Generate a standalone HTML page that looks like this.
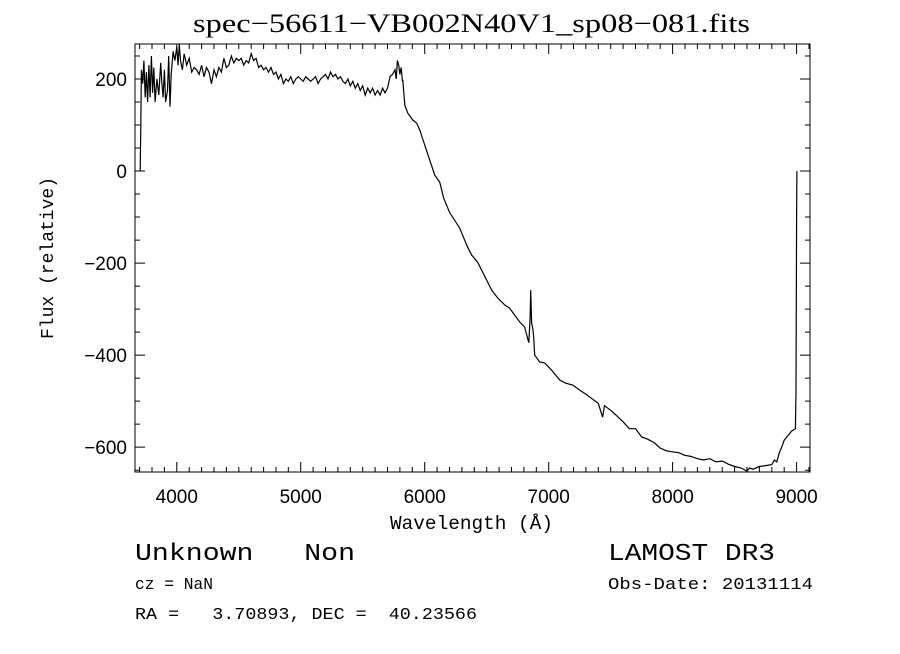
<!DOCTYPE html>
<html><head><meta charset="utf-8"><style>
body{margin:0;background:#fff;}
svg text{fill:#000;}
</style></head><body>
<svg id="chart" width="900" height="649" xmlns="http://www.w3.org/2000/svg">
<rect width="900" height="649" fill="#fff"/>
<text x="193" y="32" textLength="557" lengthAdjust="spacingAndGlyphs" font-family="Liberation Serif, serif" font-size="26">spec−56611−VB002N40V1_sp08−081.fits</text>
<g id="axes"></g>
<path id="spectrum" fill="none" stroke="#000" stroke-width="1.2"/>
<text x="390" y="529" textLength="163" lengthAdjust="spacingAndGlyphs" font-family="Liberation Mono, monospace" font-size="19">Wavelength (Å)</text>
<text transform="translate(53,258) rotate(-90)" text-anchor="middle" font-family="Liberation Mono, monospace" font-size="18">Flux (relative)</text>
<text x="135" y="560" textLength="220" lengthAdjust="spacingAndGlyphs" font-family="Liberation Mono, monospace" font-size="24" xml:space="preserve">Unknown   Non</text>
<text x="608" y="560" textLength="167" lengthAdjust="spacingAndGlyphs" font-family="Liberation Mono, monospace" font-size="24">LAMOST DR3</text>
<text x="135" y="589" textLength="78" lengthAdjust="spacingAndGlyphs" font-family="Liberation Mono, monospace" font-size="17">cz = NaN</text>
<text x="608" y="589" textLength="205" lengthAdjust="spacingAndGlyphs" font-family="Liberation Mono, monospace" font-size="17">Obs-Date: 20131114</text>
<text x="135" y="619" textLength="342" lengthAdjust="spacingAndGlyphs" font-family="Liberation Mono, monospace" font-size="17" xml:space="preserve">RA =   3.70893, DEC =  40.23566</text>
</svg>
<script>
const wavelengths=[3705,3710,3715,3725,3735,3745,3755,3765,3775,3785,3795,3805,3815,3825,3840,3855,3870,3880,3890,3900,3910,3925,3935,3945,3955,3970,3985,4000,4010,4020,4030,4045,4060,4080,4100,4120,4140,4160,4180,4200,4220,4240,4260,4280,4300,4320,4340,4360,4380,4400,4420,4440,4460,4480,4500,4520,4540,4560,4580,4600,4620,4640,4660,4680,4700,4720,4740,4760,4780,4800,4820,4840,4860,4880,4900,4920,4940,4960,4980,5000,5020,5040,5060,5080,5100,5120,5140,5160,5180,5200,5220,5240,5260,5280,5300,5320,5340,5360,5380,5400,5420,5440,5460,5480,5500,5520,5540,5560,5580,5600,5620,5640,5660,5680,5700,5720,5740,5760,5770,5780,5790,5800,5810,5820,5823,5839,5863,5903,5935,5960,5992,6040,6081,6121,6153,6202,6242,6282,6339,6379,6427,6500,6540,6589,6645,6685,6726,6766,6806,6840,6850,6855,6862,6870,6878,6887,6927,6968,7024,7089,7137,7194,7250,7300,7350,7400,7435,7450,7500,7550,7600,7650,7700,7750,7800,7850,7900,7950,8000,8050,8100,8150,8200,8250,8300,8350,8400,8450,8500,8550,8600,8620,8650,8700,8750,8800,8820,8840,8860,8880,8900,8930,8960,8990,8995,9000,9002];
const fluxes=[0,100,220,190,240,160,215,150,230,160,250,170,225,150,200,165,235,190,160,220,150,175,250,140,210,260,240,270,230,275,240,220,255,230,245,215,225,220,210,230,205,225,215,190,220,205,225,215,245,225,230,250,235,245,240,245,230,240,235,255,240,245,225,230,220,225,215,225,210,215,200,210,190,200,195,205,190,200,205,200,195,205,200,195,200,205,190,200,205,210,200,215,205,210,200,205,195,190,200,185,195,180,190,175,185,165,180,170,180,165,175,165,180,170,180,205,210,220,200,240,230,210,225,195,198,143,126,111,104,89,63,24,-9,-24,-59,-91,-107,-124,-161,-183,-198,-237,-259,-276,-291,-298,-313,-328,-339,-373,-320,-259,-330,-340,-358,-400,-415,-417,-433,-454,-461,-465,-476,-485,-495,-505,-535,-510,-520,-532,-545,-560,-560,-578,-583,-590,-602,-608,-610,-612,-618,-620,-625,-628,-625,-632,-630,-637,-642,-645,-652,-645,-648,-642,-640,-638,-628,-632,-612,-600,-585,-575,-565,-560,-480,-100,0];
const xTicks=[4000,5000,6000,7000,8000,9000];
const yTicks=[-600,-400,-200,0,200];
const X0=135,X1=810,Y0=44,Y1=472;
const xMin=3663,xMax=9108,yMin=-654,yMax=276;
function sx(v){return X0+(v-xMin)/(xMax-xMin)*(X1-X0);}
function sy(v){return Y1-(v-yMin)/(yMax-yMin)*(Y1-Y0);}
const NS='http://www.w3.org/2000/svg';
const g=document.getElementById('axes');
function mk(tag,attrs){const e=document.createElementNS(NS,tag);for(const k in attrs)e.setAttribute(k,attrs[k]);g.appendChild(e);return e;}
const frame=mk('rect',{x:X0,y:Y0,width:X1-X0,height:Y1-Y0,fill:'none',stroke:'#000','stroke-width':1});


let tp='';
for(let w=3700;w<=9100;w+=100){const x=sx(w).toFixed(1);const L=(w%1000===0)?10:5;tp+=`M${x},${Y1}v${-L}M${x},${Y0}v${L}`;}
for(let f=-650;f<=250;f+=50){const y=sy(f).toFixed(1);const L=(f%200===0)?10:5;tp+=`M${X0},${y}h${L}M${X1},${y}h${-L}`;}
const ticks=mk('path',{d:tp,stroke:'#000','stroke-width':1,fill:'none'});


xTicks.forEach(v=>{const t=mk('text',{x:sx(v),y:Y1+31,'text-anchor':'middle','font-family':'Liberation Sans, sans-serif','font-size':19});t.textContent=v;

});
yTicks.forEach(v=>{const t=mk('text',{x:X0-8,y:sy(v)+7,'text-anchor':'end','font-family':'Liberation Sans, sans-serif','font-size':19});t.textContent=(v<0?'−'+(-v):v);

});
let d='';
wavelengths.forEach((w,i)=>{d+=(i?'L':'M')+sx(w).toFixed(1)+','+sy(fluxes[i]).toFixed(1);});
document.getElementById('spectrum').setAttribute('d',d);
</script>
</body></html>
